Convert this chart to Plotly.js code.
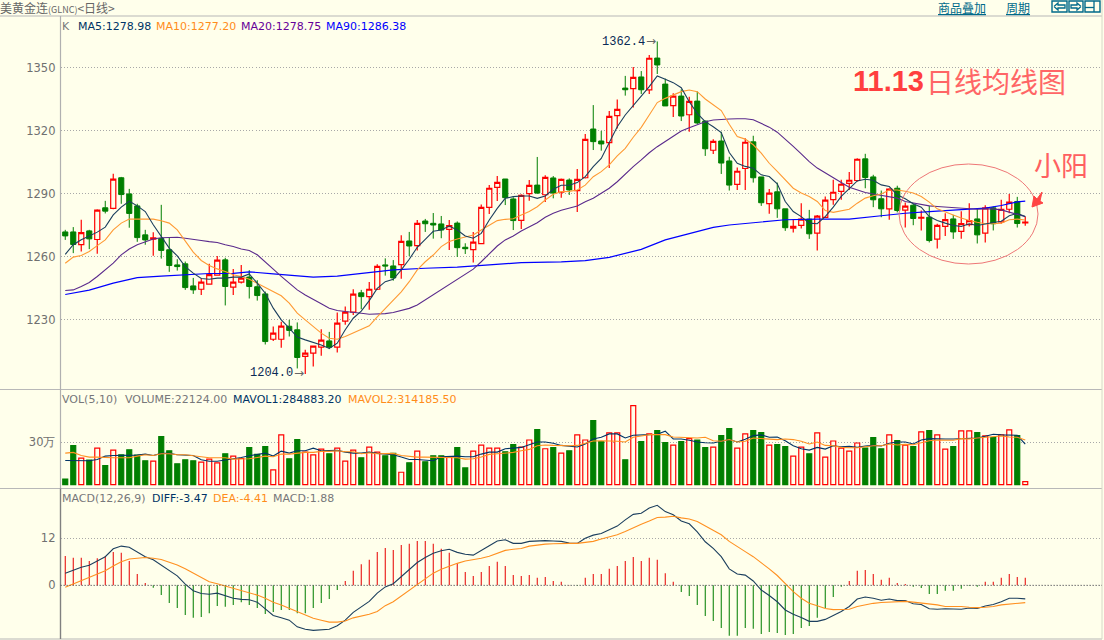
<!DOCTYPE html>
<html><head><meta charset="utf-8">
<script src="https://cdn.plot.ly/plotly-3.0.1.min.js"></script>
<style>html,body{margin:0;padding:0;background:#FFFFEB;overflow:hidden}#c{width:1104px;height:640px}</style>
</head><body><div id="c"></div>
<script>
const openP=[1271.7,1271.7,1265.7,1272.2,1268.1,1283.2,1282.9,1297.5,1289.8,1284.1,1270.3,1268.3,1268.6,1263.2,1256,1256.5,1246,1244.4,1246.8,1251.1,1258.4,1245.4,1247.8,1250.2,1245.6,1242.2,1220.6,1220.6,1226.8,1225.1,1212.4,1214,1216.8,1219.8,1216.8,1229.2,1233.5,1242.7,1240.9,1244.4,1256,1255.5,1256.1,1267.4,1265.2,1276.9,1275.8,1275.5,1272.9,1275.9,1264.4,1263.3,1266.1,1283.4,1292.9,1296.9,1287.4,1277.2,1289.9,1294,1289.4,1297.4,1290.6,1296.4,1291.4,1297.5,1320.7,1315,1314.2,1327.1,1340.2,1339.9,1345.5,1339.3,1354.5,1342.1,1331.8,1336.4,1327.5,1334,1324.5,1310.6,1315,1305.5,1294.3,1301.9,1314.6,1297.9,1285.2,1290.8,1282.7,1273.5,1274.8,1277.8,1271.1,1278.6,1287.1,1291,1294.8,1296.2,1306.5,1297.9,1287.5,1282.7,1292.5,1282.1,1284.4,1278.3,1278.7,1268.3,1274.3,1277.9,1272,1275.2,1277.9,1271.1,1283.2,1276.5,1282.5,1286.2,1276];
const closeP=[1269.8,1265.7,1271.4,1268.4,1282.1,1281.6,1296.8,1289.5,1280.5,1269,1267.9,1268.9,1262.9,1255.7,1255.2,1245.2,1244.1,1247.8,1251.4,1258.3,1245.7,1247.8,1249.7,1245.7,1241.4,1219.5,1223.5,1226.8,1224.8,1211.9,1214,1217.3,1220.2,1216.8,1228.3,1233.5,1242.1,1240.9,1244.4,1255.3,1255.5,1249.8,1267.2,1265,1275.8,1275.6,1275,1272.6,1274.7,1264.2,1263.7,1266.8,1283.4,1292.5,1295.3,1288,1277.1,1289.1,1293.9,1290.2,1297.7,1290.2,1296.7,1291.7,1296.7,1315.8,1314.7,1313.6,1326.7,1330.1,1339.4,1345.3,1339.4,1354.4,1351.2,1331.7,1336.4,1326.9,1333.9,1323.6,1311.3,1314.8,1304.5,1294,1300.6,1314.4,1297.5,1285.6,1290.2,1282.7,1273.7,1274.4,1277.8,1270.8,1279.2,1286.8,1290.6,1294.4,1296.3,1306.3,1297.6,1287,1282.7,1292.1,1281.9,1284,1278.1,1278.7,1267.6,1274.8,1277.6,1271.7,1275.7,1277.1,1270.3,1283.2,1275.6,1282.4,1285.9,1275.7,1276.4];
const highP=[1272.7,1274,1277.5,1272.7,1282.5,1286.5,1299.4,1297.9,1292.2,1285.1,1272.7,1271.6,1284.6,1268.9,1258.7,1257.6,1249.8,1249.5,1256.5,1260.2,1259.4,1254,1255.9,1253.5,1248.7,1243.3,1226.7,1228.9,1229.8,1228.6,1215.6,1217.6,1225.4,1224.1,1233.3,1236.2,1244.4,1244.1,1247.8,1256.3,1259.1,1258.3,1270.1,1271.7,1277.4,1277.9,1280.7,1279.3,1277.4,1276.7,1266.3,1271.7,1284.8,1294,1298.3,1296.9,1288.2,1289.6,1296.4,1307.4,1298.7,1298.3,1297.1,1297.2,1301.7,1318.3,1332.1,1319.8,1329.3,1334.8,1346,1350.2,1348.3,1356,1362.4,1344.7,1337.7,1339.6,1336.1,1338.6,1324.7,1315.8,1319.4,1307.5,1302.4,1316.3,1317.5,1297.9,1292.2,1295.2,1282.7,1277.8,1285.4,1282.2,1279.8,1288.6,1296.5,1296.5,1300.2,1306.8,1308.9,1298.9,1291.4,1292.5,1293.7,1285.7,1285.1,1281.9,1284.1,1275.6,1280.6,1279.8,1281.6,1285.4,1283,1284.4,1283.8,1287,1289.8,1288.4,1279];
const lowP=[1267.9,1261.6,1262.4,1263.5,1261.3,1280.5,1282.5,1285.1,1273.7,1267,1265.6,1260.3,1259,1252.7,1253.3,1244.1,1242.2,1241.7,1246.8,1250.8,1236.7,1241.7,1247.1,1240,1239,1218.1,1219.8,1216.5,1221.9,1206.7,1204,1207.6,1212.7,1215.9,1214.3,1227.5,1232.2,1234.9,1234.6,1244.1,1250.9,1248.5,1249.4,1260.2,1262.8,1271.7,1268.5,1268.7,1263.1,1259.8,1261.2,1257.1,1266.1,1280.2,1286.4,1284.5,1272.6,1273.1,1286.6,1289.8,1285.9,1287.7,1288,1289.3,1281.2,1297.1,1310.7,1310.4,1302.1,1321,1336.6,1331,1337.4,1337.4,1346.9,1331.7,1326.4,1324.5,1319.4,1323.1,1307.9,1308.8,1299.3,1291.4,1291.7,1291.7,1295.2,1284.1,1280.3,1278.4,1272.2,1271.4,1273.3,1268.4,1262.9,1278.6,1284.6,1287,1291.7,1295.7,1292.5,1283.5,1278.7,1277.5,1281,1273.8,1274.9,1272.4,1266.7,1263.8,1269.8,1268.4,1268.4,1274.3,1266.2,1266.7,1272.4,1275.6,1280.6,1273.8,1274.6];
const ma5=[1261,1265.6,1268,1269.8,1271.6,1274,1279.8,1283.5,1286.3,1284.1,1281.4,1275.1,1269.5,1264,1260.3,1255.2,1252.1,1249.5,1249.2,1249.7,1249.7,1250.2,1250.2,1251.7,1247.3,1242.5,1235.4,1229.8,1225.9,1221.6,1220.3,1219.2,1217.9,1216.2,1218.7,1225.1,1230.6,1234,1239,1244.8,1248,1249.1,1253.6,1258.7,1264.4,1268.2,1272,1272.6,1274.5,1272.6,1269.8,1268.7,1271,1277.4,1282.9,1287.7,1288.5,1288.8,1288.8,1287.7,1288.8,1292,1293.9,1293.9,1295.2,1298,1302.8,1306.7,1314.2,1321.8,1327.4,1331.7,1336.4,1340.9,1346,1344.4,1342.8,1340.4,1333.7,1328.2,1324.2,1321.8,1319,1309.5,1304.4,1302.9,1302,1298.9,1298.1,1294.6,1286.2,1281.4,1279,1275.9,1275.6,1279,1283.5,1288.6,1292.5,1296,1296.8,1296.3,1294.1,1293.3,1289.4,1287.5,1285.1,1283.5,1279,1277.1,1275.9,1274.8,1274.3,1275.6,1274.8,1275.6,1276.2,1276.8,1279.4,1280.6,1279];
const ma10=[1256.8,1259.7,1260.5,1262.4,1265.2,1267.9,1272.7,1275.9,1277.8,1277.8,1277.5,1277.8,1277,1275.9,1272.7,1267.1,1262.1,1258.1,1255.7,1254.1,1252.9,1251.3,1250.5,1249.2,1247.3,1245.4,1243.3,1241.3,1237.8,1233,1229.8,1226.7,1223.5,1221.1,1220.6,1221.9,1223.5,1225.1,1227,1231.3,1235.3,1239,1243.2,1248,1253.6,1257.5,1260.7,1264.7,1267.1,1268.3,1269.1,1270.2,1272.6,1275,1277.1,1277.7,1278,1279.8,1281.4,1283.7,1286.9,1289.6,1290.9,1291,1291.7,1294,1298,1300.4,1303.6,1307.9,1311.5,1316.8,1321.5,1327.4,1333.3,1335.3,1336.9,1338.5,1339.3,1338.5,1335,1332.1,1329.5,1323,1317.1,1315.9,1313.2,1309.2,1304.4,1300.5,1296.5,1292.5,1290.2,1288.6,1286.2,1281.9,1281,1281.9,1282.5,1285.4,1287.8,1288.9,1289.8,1291.7,1291.7,1291.1,1290.2,1288.6,1285.9,1282.7,1281.4,1279.8,1278.3,1277.1,1276.3,1275.6,1275.6,1275.9,1277.5,1277.8,1277.4];
const ma20=[1243.8,1244.1,1245.7,1247.6,1250.5,1253.7,1256.8,1260.8,1263.6,1265.6,1267.1,1268.3,1268.9,1269.2,1269.2,1268.7,1268.3,1267.6,1267.1,1266.7,1265.6,1264.8,1263.6,1262.9,1260.8,1257.6,1254,1250.5,1247.3,1244.1,1241.7,1239.4,1237.5,1235.4,1234.3,1233.8,1233.5,1233,1232.5,1232.6,1232.8,1233.3,1234.2,1235.3,1236.9,1239.3,1241.7,1244,1246.4,1248.8,1251.2,1254,1257.5,1261.2,1265,1267.9,1269.8,1272.1,1274.2,1276.1,1278.7,1280.6,1282,1282.9,1284,1286.1,1287.7,1290.1,1292.5,1295.6,1299.3,1302.8,1306,1309.4,1312.3,1314.7,1317.4,1319.8,1321.3,1322.9,1324.2,1325,1325.4,1325.5,1325.6,1325.6,1325.1,1323.5,1321.6,1319.2,1315.6,1312.4,1308.9,1305.2,1302.1,1299.7,1297.3,1295.2,1293,1291.7,1290.5,1289.8,1289.2,1288.6,1287.8,1286.2,1285.4,1284.8,1284.1,1283.8,1283.5,1283.2,1282.9,1282.5,1282.5,1282.7,1282.7,1282.2,1281.1,1280.2,1279];
const ma90x=[0,3,6,9,12,15,18,21,23,26,29,31,34,38,41,45,49,53,57,62,65,68,72,75,78,81,83,86,90,94,98,102,105,108,112,115,117,119,120];
const ma90=[1241.9,1244,1247.3,1249.9,1250.7,1251.4,1251.9,1252,1252.7,1251.7,1250.7,1250.2,1250.7,1252.5,1253.6,1254.4,1254.9,1256,1257.1,1257.4,1258,1259.6,1263.4,1267.9,1271,1273.9,1275,1276.2,1277.5,1277.8,1277.8,1279.4,1280.6,1281.4,1282.5,1283,1284.3,1286,1286.4];
const volume=[40154,273992,186598,172426,257458,134634,243286,210218,245648,207856,167702,165340,337766,238562,146444,174788,167702,158254,179512,153530,217304,200770,184236,259820,212580,266906,103928,349576,181874,316508,229114,210218,250372,217304,257458,165340,243286,188960,264544,229114,203132,219666,87394,153530,236200,160616,203132,203132,196046,259820,118100,236200,278716,257458,257458,231476,281078,264544,314146,387368,252734,259820,222028,238562,349576,314146,451142,302336,363748,363748,174788,555070,302336,356662,380282,295250,278716,302336,323594,314146,259820,264544,344852,394454,257458,356662,380282,366110,278716,281078,266906,200770,264544,217304,363748,193684,307060,257458,236200,292888,257458,330680,252734,349576,309422,278716,266906,370834,380282,349576,250372,266906,377920,377920,366110,342490,330680,349576,385006,344852,22124];
const mavol1=[170,170,168,168,177,201,205,205,210,208,215,205,220,220,210,210,205,175,165,165,172,182,191,203,213,222,201,236,222,239,239,257,239,241,241,229,222,222,229,220,217,210,194,177,177,172,168,196,201,201,196,196,215,229,229,253,257,262,281,300,300,291,276,269,265,286,321,333,357,357,328,347,347,352,354,376,321,321,312,300,295,293,305,317,300,319,345,350,333,335,309,274,253,243,262,250,274,267,269,262,272,276,272,291,300,300,286,314,324,321,321,321,324,324,328,340,354,350,347,347,285];
const mavol2=[222,227,205,194,194,189,189,189,189,201,210,205,217,217,210,210,201,196,189,187,189,180,180,182,191,201,196,215,215,222,227,227,234,234,239,231,231,217,224,217,217,220,205,198,194,194,194,194,191,189,180,182,194,213,217,220,227,239,248,274,279,276,274,274,276,291,307,309,309,305,300,333,342,352,352,352,335,333,328,328,333,309,305,317,300,305,328,326,321,317,321,317,305,286,300,276,274,262,260,260,267,274,274,286,279,283,281,293,309,314,312,312,324,321,328,333,342,342,335,333,314];
const macd=[7.5,7,7,6.2,6.9,7.5,8.5,8.3,6.2,2.9,0.6,-0.6,-2.5,-4.5,-5.8,-7.6,-8.3,-8.1,-7.1,-5.3,-5.5,-5,-4.3,-5,-5.8,-7.3,-6.8,-6.3,-6.3,-7.1,-7.1,-5.8,-4.5,-3.5,-1.2,1.1,3.7,5.4,6.5,8.5,9.5,9,10.3,10.6,11.3,11.3,10.6,9.3,8.3,5.7,3.4,2.4,3.4,4.9,6,4.9,2.6,2.4,2.6,1.9,2.1,1.1,0.9,0.1,-0.1,1.9,2.9,2.9,4.2,4.9,6.2,7.2,6.2,7,6.5,3.1,0.9,-1.7,-2.7,-5,-7.8,-9.1,-10.9,-12.9,-12.9,-10.9,-11.1,-12.4,-11.9,-12.2,-12.7,-12.4,-10.9,-10.4,-8.3,-5.8,-3,-0.4,1.1,3.7,3.9,2.9,1.4,1.9,0.6,0.3,-0.4,-0.7,-2.2,-2.2,-1.4,-1.4,-0.9,-0.2,-0.4,0.9,0.9,1.9,2.9,2.1,1.9];
const diff=[3.1,3.9,4.6,5.1,6.3,7.3,9.3,10,9.7,8.4,7.3,6.5,5.2,3.7,2.4,0.3,-1.4,-2.1,-2.3,-2,-2.6,-3.3,-3.6,-3.7,-4.3,-6,-7.7,-8.3,-8.9,-10.6,-11.2,-11.5,-11.3,-11.2,-10.3,-8.9,-6.9,-5.5,-4.1,-2,-0.4,0.4,2.2,3.9,5.8,7.1,8.2,8.8,9.2,8.4,7.9,7.7,8.8,10.1,11.3,11.6,10.7,10.7,11.2,11.3,11.4,11.3,11.2,10.8,10.7,12,12.8,13.2,14.1,15.1,16.7,18.1,18.4,19.7,20.4,18.8,18,16.4,15.7,13.6,11.1,9.4,7.3,4.2,2.9,2.6,1.1,-1.2,-2.6,-4.2,-6.3,-7.4,-8.2,-9.2,-9.2,-8.7,-7.7,-6.7,-5.4,-3.5,-3,-3.3,-3.8,-3.5,-3.9,-3.9,-4.7,-4.9,-6,-6.1,-6,-6.1,-6.1,-5.8,-5.9,-5.3,-4.9,-4.2,-3.3,-3.3,-3.47];
const dea=[-0.5,0.3,1.1,2,2.8,3.7,4.9,6,6.7,6.9,7.1,6.9,6.6,5.9,5.2,4.2,3.1,2,0.9,0.4,-0.2,-0.9,-1.4,-2,-2.5,-3.3,-4.3,-5,-5.9,-6.7,-7.6,-8.4,-8.9,-9.4,-9.4,-9.1,-8.3,-7.9,-7.4,-6.7,-5.2,-4.2,-2.7,-1.4,0.1,1.6,3.1,4.1,4.9,5.6,6.2,6.5,6.9,7.4,8.2,8.9,9.2,9.4,10,10.3,10.5,10.6,10.7,10.7,10.7,11,11.2,11.8,12.3,12.9,13.7,14.7,15.6,16.4,17.3,17.4,17.6,17.2,16.9,16.3,15.1,14,12.9,11.2,10,8.6,7.3,5.8,4.2,2.5,0.5,-1.6,-3.3,-4.6,-5.2,-5.9,-6.2,-6.2,-6.1,-5.4,-5,-4.6,-4.4,-4.3,-4.1,-4.1,-4.3,-4.5,-4.8,-5,-5.4,-5.4,-5.4,-5.6,-5.7,-5.6,-5.4,-5,-4.8,-4.5,-4.41];
const priceTicks=[1230,1260,1290,1320,1350];
const volTicks=[300000], volTickText=['30万'];
const macdTicks=[0,12];

const W=1104,H=640,BG='#FFFFEB',RED='#ff0000',GREEN='#007f00';
const NAVY='#003366',ORG='#ff8c1a',PUR='#660099',BLU='#0000ff',GRY='#77777a';
const px=x=>x/W, py=y=>1-y/H;
const idx=openP.map((_,i)=>i);
const up=openP.map((o,i)=>closeP[i]>=o);
const line=(x,y,color,xa,ya,w)=>({type:'scatter',mode:'lines',x,y,xaxis:xa,yaxis:ya,line:{color,width:w||1},hoverinfo:'skip'});
const traces=[
 {type:'candlestick',x:idx,open:openP,high:highP,low:lowP,close:closeP,xaxis:'x',yaxis:'y',whiskerwidth:0,
  increasing:{line:{color:RED,width:1.2},fillcolor:BG},decreasing:{line:{color:GREEN,width:1},fillcolor:GREEN},hoverinfo:'skip'},
 line(ma90x,ma90,BLU,'x','y',1.2),
 line(idx,ma20,'#5a2a8c','x','y',1.1),
 line(idx,ma10,'#ff9a33','x','y',1.1),
 line(idx,ma5,'#1c3f5e','x','y',1.1),
 {type:'bar',x:idx,y:volume,xaxis:'x2',yaxis:'y2',width:0.62,
  marker:{color:up.map(u=>u?BG:GREEN),line:{color:up.map(u=>u?RED:GREEN),width:1.2}},hoverinfo:'skip'},
 line(idx,mavol1.map(v=>v*1000),NAVY,'x2','y2',1.1),
 line(idx,mavol2.map(v=>v*1000),'#ff9020','x2','y2',1.1),
 {type:'bar',x:idx,y:macd,xaxis:'x3',yaxis:'y3',width:0.125,
  marker:{color:macd.map(v=>v>=0?'#e60000':GREEN),line:{color:macd.map(v=>v>=0?'#e60000':GREEN),width:0.02}},hoverinfo:'skip'},
 line(idx,diff,'#1c3f5e','x3','y3',1.1),
 line(idx,dea,'#ff9020','x3','y3',1.1)
];

const txt=(x,y,text,color,size,fam,anchor)=>({xref:'paper',yref:'paper',x:px(x),y:py(y),text,showarrow:false,
 xanchor:anchor||'left',yanchor:'middle',align:'left',font:{color,size:size||11,family:fam||'DejaVu Sans'},borderpad:0,borderwidth:0});
const annotations=[
 txt(0,8,'美黄金连<span style="font-size:9px">(GLNC)</span>&lt;日线&gt;','#666666',12,"'Noto Sans CJK SC'"),
 txt(938,7,'<u>商品叠加</u>','#006a8a',12,"'Noto Sans CJK SC'"),
 txt(1006,7,'<u>周期</u>','#006a8a',12,"'Noto Sans CJK SC'"),
 txt(62,26,'K',GRY),
 txt(78,26,'MA5:1278.98',NAVY),
 txt(156,26,'MA10:1277.20',ORG),
 txt(241,26,'MA20:1278.75',PUR),
 txt(326,26,'MA90:1286.38',BLU),
 txt(62,399,'VOL(5,10)',GRY),
 txt(125,399,'VOLUME:22124.00',GRY),
 txt(233,399,'MAVOL1:284883.20',NAVY),
 txt(348,399,'MAVOL2:314185.50',ORG),
 txt(62,498,'MACD(12,26,9)',GRY),
 txt(152,498,'DIFF:-3.47',NAVY),
 txt(213,498,'DEA:-4.41',ORG),
 txt(273,498,'MACD:1.88',GRY),
 txt(602,42,'1362.4','#0a2a55',12,"'Liberation Mono'"),
 txt(646,41,'→','#666666',12),
 txt(250,373,'1204.0','#0a2a55',12,"'Liberation Mono'"),
 txt(294,373,'→','#666666',12),
 txt(853,81,'<b>11.13</b>','#ff3f3f',29,"'Liberation Sans'"),
 txt(926,81,'日线均线图','#ff6666',28,"'Noto Sans CJK SC'"),
 txt(1034,164,'小阳','#ff6060',27,"'Noto Sans CJK SC'")
];
const seg=(x0,y0,x1,y1,color,w)=>({type:'line',xref:'paper',yref:'paper',x0:px(x0),y0:py(y0),x1:px(x1),y1:py(y1),line:{color,width:w||1},layer:'below'});
const path=(pts,fill,color)=>({type:'path',xref:'paper',yref:'paper',path:pts.map((p,i)=>(i?'L':'M')+px(p[0])+','+py(p[1])).join(' ')+(fill?' Z':''),fillcolor:fill||'rgba(0,0,0,0)',line:{color,width:fill?1:1.3}});
const box=(x0,y0,x1,y1,color)=>({type:'rect',xref:'paper',yref:'paper',x0:px(x0),y0:py(y0),x1:px(x1),y1:py(y1),line:{color,width:1.4}});
const LINK='#006a8a';
const shapes=[
 seg(0,16,1102,16,'#b8b8b8',1.2),
 seg(0,389.5,1102,389.5,'#b8b8b8',1.2),
 seg(0,488.5,1102,488.5,'#b8b8b8',1.2),
 seg(0,639,1102,639,'#b8b8b8',1.2),
 seg(60.5,16,60.5,488.5,'#b0b0b0',1.2),
 seg(60.5,488.5,60.5,639,'#808080',1.4),
 seg(1102,0,1102,639,'#d8d8c8',1),
 {type:'circle',xref:'paper',yref:'paper',x0:px(899),x1:px(1038),y0:py(264),y1:py(164),line:{color:'#ee7777',width:1}},
 path([[1032,207],[1034,196],[1037,199],[1042,192],[1040,201],[1043,203]],'#ff4444','#ff4444'),
 box(1052,1,1067,12,LINK),box(1069,1,1083,12,LINK),box(1085,1,1100,12,LINK),
 path([[1054,6.5],[1058,3],[1058,5],[1065,5],[1065,8],[1058,8],[1058,10],[1054,6.5]],null,LINK),
 path([[1081,6.5],[1077,3],[1077,5],[1071,5],[1071,8],[1077,8],[1077,10],[1081,6.5]],null,LINK),
 path([[1085,7.5],[1094,7.5]],null,LINK),
 path([[1094,1],[1094,12]],null,LINK)
];
const DOT='1px,2px';
const xr=[(60.5-65.25)/8,(1102-65.25)/8], xdom=[px(60.5),px(1102)];
const xa={range:xr,domain:xdom,visible:false,fixedrange:true,showgrid:false,zeroline:false};
const ya=(dom,range,vals,text)=>({domain:dom,range,tickmode:'array',tickvals:vals,ticktext:text,showline:false,ticks:'',zeroline:false,
 showgrid:true,gridcolor:'#a8a8a8',griddash:DOT,gridwidth:1,tickfont:{family:'DejaVu Sans',size:11.5,color:'#707070'},ticklabelstandoff:4,fixedrange:true,anchor:'free',position:px(60.5)});
const layout={width:W,height:H,margin:{l:0,r:0,t:0,b:0},paper_bgcolor:BG,plot_bgcolor:BG,showlegend:false,
 boxgap:0.2,boxgroupgap:0.2,boxmode:'overlay',bargap:0,barmode:'overlay',
 xaxis:Object.assign({},xa,{rangeslider:{visible:false},anchor:'y'}),
 xaxis2:Object.assign({},xa,{anchor:'y2'}),
 xaxis3:Object.assign({},xa,{anchor:'y3'}),
 yaxis:Object.assign(ya([py(389),py(16)],[1350-(389-67.5)/2.1,1350-(16-67.5)/2.1],priceTicks,priceTicks.map(String)),{anchor:'x'}),
 yaxis2:Object.assign(ya([py(488.5),py(389.5)],[-(488.5-484.7)*7026,(484.7-389.5)*7026],volTicks,volTickText),{anchor:'x2'}),
 yaxis3:Object.assign(ya([py(639),py(488.5)],[(585.3-639)/3.92,(585.3-488.5)/3.92],macdTicks,macdTicks.map(String)),{anchor:'x3'}),
 annotations,shapes:shapes.concat([{type:'line',xref:'paper',yref:'y3',x0:xdom[0],x1:xdom[1],y0:0,y1:0,line:{color:'#555555',width:1,dash:DOT},layer:'above'}])
};
Plotly.newPlot('c',traces,layout,{staticPlot:true,displayModeBar:false});
</script></body></html>
